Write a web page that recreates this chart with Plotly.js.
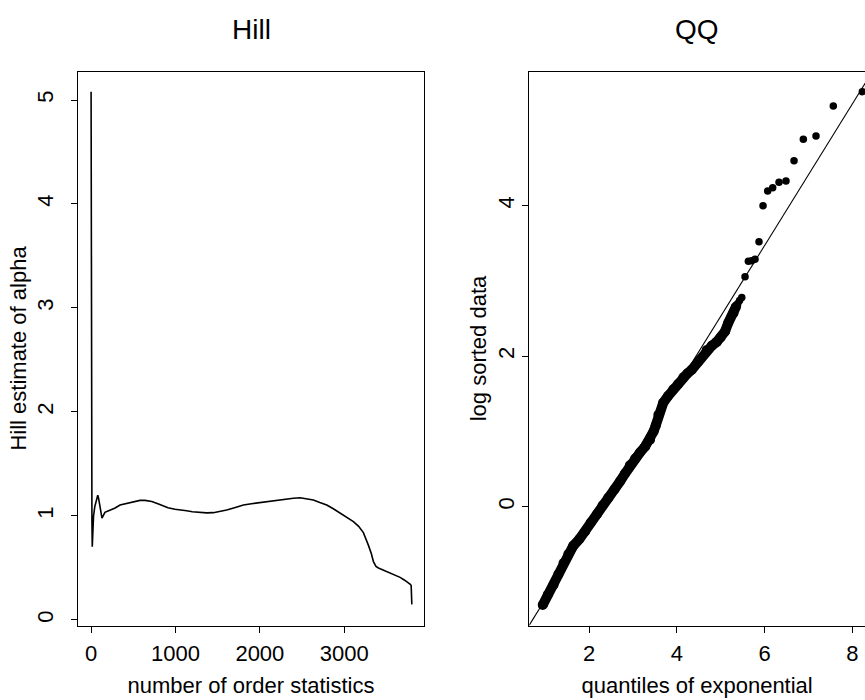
<!DOCTYPE html>
<html>
<head>
<meta charset="utf-8">
<script src="https://cdn.plot.ly/plotly-3.0.1.min.js"></script>
<style>html,body{margin:0;padding:0;background:#fff;overflow:hidden;}#chart{width:865px;height:700px;}</style>
</head>
<body>
<div id="chart"></div>
<script>
// ---- Hill plot data (number of order statistics k, Hill estimate of alpha)
const hillK = [1, 2, 3, 5, 8, 11, 15, 20, 30, 45, 60, 70, 80, 90, 105, 130, 165, 225, 280, 344, 400, 478, 580, 640, 720, 800, 857, 912, 995, 1060, 1133, 1200, 1291, 1370, 1449, 1530, 1607, 1700, 1805, 1900, 2002, 2100, 2200, 2300, 2397, 2476, 2550, 2634, 2710, 2792, 2870, 2950, 3030, 3108, 3170, 3226, 3285, 3320, 3345, 3375, 3404, 3464, 3522, 3563, 3620, 3661, 3710, 3741, 3770, 3785, 3792, 3800];
const hillAlpha = [5.08, 3.3, 2.5, 1.8, 1.3, 0.95, 0.705, 0.80, 1.00, 1.09, 1.13, 1.17, 1.20, 1.17, 1.10, 0.98, 1.035, 1.055, 1.075, 1.105, 1.115, 1.125, 1.150, 1.150, 1.140, 1.115, 1.095, 1.080, 1.065, 1.060, 1.050, 1.040, 1.032, 1.030, 1.032, 1.045, 1.058, 1.080, 1.106, 1.118, 1.130, 1.140, 1.148, 1.158, 1.170, 1.176, 1.168, 1.154, 1.130, 1.106, 1.070, 1.026, 0.990, 0.946, 0.900, 0.840, 0.720, 0.640, 0.560, 0.515, 0.500, 0.480, 0.462, 0.450, 0.430, 0.410, 0.385, 0.370, 0.350, 0.340, 0.330, 0.150];

// ---- QQ plot data: dense body of the sample (quantiles of exponential, log sorted data)
const qqBodyX = [0.945, 1.06, 1.19, 1.30, 1.42, 1.53, 1.64, 1.78, 1.91, 2.04, 2.18, 2.31, 2.44, 2.58, 2.71, 2.82, 2.93, 3.05, 3.16, 3.28, 3.39, 3.47, 3.52, 3.58, 3.69, 3.80, 3.92, 4.03, 4.15, 4.24, 4.34, 4.49, 4.68, 4.80, 4.91, 5.00, 5.10, 5.17, 5.29, 5.35];
const qqBodyY = [-1.306, -1.17, -1.04, -0.90, -0.75, -0.63, -0.52, -0.43, -0.33, -0.21, -0.10, 0.02, 0.12, 0.23, 0.34, 0.44, 0.55, 0.64, 0.72, 0.80, 0.89, 1.00, 1.08, 1.22, 1.38, 1.47, 1.56, 1.63, 1.72, 1.77, 1.82, 1.93, 2.08, 2.14, 2.19, 2.25, 2.33, 2.44, 2.57, 2.66];
// upper tail: individual points
const qqTailX = [5.39, 5.43, 5.48, 5.554, 5.630, 5.706, 5.781, 5.872, 5.964, 6.070, 6.184, 6.328, 6.487, 6.670, 6.882, 7.171, 7.565, 8.226];
const qqTailY = [2.70, 2.74, 2.78, 3.057, 3.261, 3.269, 3.288, 3.522, 4.000, 4.195, 4.239, 4.311, 4.328, 4.598, 4.882, 4.926, 5.325, 5.515];
// reference line y = intercept + slope * x
const refIntercept = -2.175;
const refSlope = 0.941;

// ---- tick labels
const hillXTicks = [0, 1000, 2000, 3000];
const hillYTicks = [0, 1, 2, 3, 4, 5];
const qqXTicks = [2, 4, 6, 8];
const qqYTicks = [0, 2, 4];

const hillXRange = [-154, 3944];
const hillYRange = [-0.053, 5.274];
const qqXRange = [0.639, 8.287];
const qqYRange = [-1.579, 5.783];

const FONT = 'Liberation Sans, Arial, Helvetica, sans-serif';
const refX = [qqXRange[0] - 1, qqXRange[1] + 1];

const traces = [
  {x: hillK, y: hillAlpha, type: 'scatter', mode: 'lines', xaxis: 'x', yaxis: 'y',
   line: {color: '#000', width: 1.6}, hoverinfo: 'skip'},
  {x: refX, y: refX.map(v => refIntercept + refSlope * v),
   type: 'scatter', mode: 'lines', xaxis: 'x2', yaxis: 'y2',
   line: {color: '#000', width: 1.1}, hoverinfo: 'skip'},
  {x: qqBodyX, y: qqBodyY, type: 'scatter', mode: 'lines+markers', xaxis: 'x2', yaxis: 'y2',
   line: {color: '#000', width: 10}, marker: {color: '#000', size: 10}, hoverinfo: 'skip'},
  {x: qqTailX, y: qqTailY, type: 'scatter', mode: 'markers', xaxis: 'x2', yaxis: 'y2',
   marker: {color: '#000', size: 7.5}, hoverinfo: 'skip'}
];

const TS = 22;
const axisCommon = {
  showgrid: false, zeroline: false, showline: true, linecolor: '#000', linewidth: 1,
  ticks: 'outside', ticklen: 6, tickwidth: 1, tickcolor: '#000',
  tickfont: {family: FONT, size: TS, color: '#000'}
};

const layout = {
  width: 865, height: 700,
  margin: {l: 0, r: 0, t: 0, b: 0},
  paper_bgcolor: '#fff', plot_bgcolor: '#fff',
  showlegend: false,
  font: {family: FONT, color: '#000'},
  xaxis: Object.assign({}, axisCommon, {
    domain: [78/865, 424/865], range: hillXRange, tickvals: hillXTicks, ticktext: hillXTicks.map(String),
    mirror: true, anchor: 'y', ticklabelstandoff: 2,
    title: {text: 'number of order statistics', font: {family: FONT, size: TS, color: '#000'}, standoff: 12}
  }),
  yaxis: Object.assign({}, axisCommon, {
    domain: [(700-625.5)/700, (700-71.5)/700], range: hillYRange, tickvals: hillYTicks, ticktext: hillYTicks.map(String),
    tickangle: -90, mirror: true, anchor: 'x', ticklabelstandoff: 9,
    title: {text: 'Hill estimate of alpha', font: {family: FONT, size: TS, color: '#000'}, standoff: 0}
  }),
  xaxis2: Object.assign({}, axisCommon, {
    domain: [529.3/865, 1], range: qqXRange, tickvals: qqXTicks, ticktext: qqXTicks.map(String),
    mirror: true, anchor: 'y2', ticklabelstandoff: 2,
    title: {text: 'quantiles of exponential', font: {family: FONT, size: TS, color: '#000'}, standoff: 12}
  }),
  yaxis2: Object.assign({}, axisCommon, {
    domain: [(700-625.5)/700, (700-71.5)/700], range: qqYRange, tickvals: qqYTicks, ticktext: qqYTicks.map(String),
    tickangle: -90, mirror: false, anchor: 'x2', ticklabelstandoff: 0,
    title: {text: 'log sorted data', font: {family: FONT, size: TS, color: '#000'}, standoff: 0}
  }),
  annotations: [
    {text: 'Hill', xref: 'paper', yref: 'paper', x: 251/865, y: 1 - 30/700, showarrow: false,
     font: {family: FONT, size: 28, color: '#000'}, xanchor: 'center', yanchor: 'middle'},
    {text: 'QQ', xref: 'paper', yref: 'paper', x: 697/865, y: 1 - 30/700, showarrow: false,
     font: {family: FONT, size: 28, color: '#000'}, xanchor: 'center', yanchor: 'middle'}
  ]
};

Plotly.newPlot('chart', traces, layout, {displayModeBar: false, staticPlot: true});
</script>
</body>
</html>
